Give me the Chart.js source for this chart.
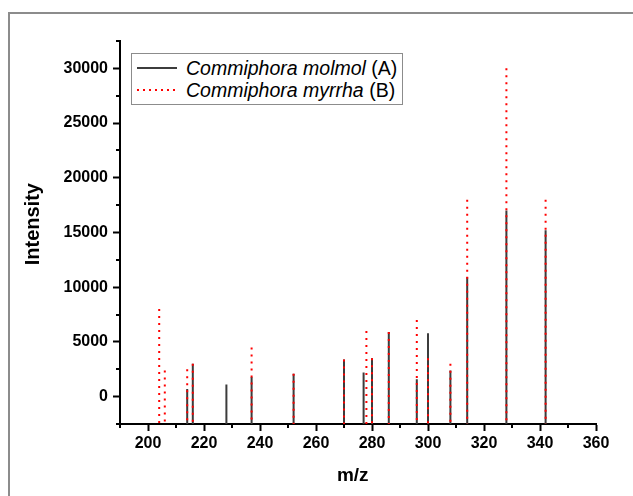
<!DOCTYPE html>
<html>
<head>
<meta charset="utf-8">
<script src="https://cdn.jsdelivr.net/npm/chart.js@4.4.1/dist/chart.umd.min.js"></script>
<style>
  body { margin: 0; background: #fff; overflow: hidden; }
  #wrap { position: relative; width: 633px; height: 496px; overflow: hidden; }
  #frame { position: absolute; left: 8px; top: 12px; width: 700px; height: 600px;
           border-left: 2px solid #8c8c8c; border-top: 2px solid #8c8c8c; }
  #chart { position: absolute; left: 0; top: 0; }
  #legend { position: absolute; left: 131px; top: 53px; width: 270px; height: 50px;
            border: 1px solid #8c8c8c; background: #fff; color: #000;
            font-family: "Liberation Sans", Arial, sans-serif; font-size: 19.5px; }
  .row { position: absolute; left: 0; height: 22px; line-height: 22px; white-space: nowrap; }
  .sample { position: absolute; left: 5px; top: 10px; width: 40px; height: 2px; }
  .label { position: absolute; left: 54px; top: 0; }
</style>
</head>
<body>
<div id="wrap">
  <div id="frame"></div>
  <canvas id="chart" width="633" height="496"></canvas>
  <div id="legend"></div>
</div>
<script>
// m/z 값과 세기
const mzA = [214, 216, 228, 237, 252, 270, 277, 280, 286, 296, 300, 308, 314, 328, 342];
const intA = [700, 3000, 1100, 1800, 2100, 3400, 2200, 3500, 5900, 1600, 5800, 2400, 10900, 17000, 15200];
const mzB = [204, 206, 214, 216, 237, 252, 270, 278, 280, 286, 296, 300, 308, 314, 328, 342];
const intB = [8000, 2400, 2500, 3000, 4500, 2100, 3400, 6000, 3500, 5900, 7000, 3500, 3000, 18000, 30000, 18000];

const seriesNames = ["Commiphora molmol", "Commiphora myrrha"];
const seriesTags = ["(A)", "(B)"];

// 축 눈금
const xMin = 190, xMax = 360;
const yMin = -2500, yMax = 32500;
const xTicks = [200, 220, 240, 260, 280, 300, 320, 340, 360];
const xMinor = [190, 210, 230, 250, 270, 290, 310, 330, 350];
const yTicks = [0, 5000, 10000, 15000, 20000, 25000, 30000];
const yMinor = [-2500, 2500, 7500, 12500, 17500, 22500, 27500, 32500];

const font = "'Liberation Sans', Arial, sans-serif";

// 막대 대신 세로선: 값(위)에서 축 바닥까지, null 로 끊기
function stems(mz, vals) {
  const pts = [];
  mz.forEach((x, i) => {
    pts.push({ x: x, y: vals[i] }, { x: x, y: yMin }, { x: x, y: null });
  });
  return pts;
}

// 보조 눈금
const minorTicks = {
  id: "minorTicks",
  afterDraw(chart) {
    const { ctx, chartArea, scales } = chart;
    ctx.save();
    ctx.strokeStyle = "#000";
    ctx.lineWidth = 2;
    ctx.beginPath();
    xMinor.forEach(v => {
      const px = Math.round(scales.x.getPixelForValue(v));
      ctx.moveTo(px, chartArea.bottom);
      ctx.lineTo(px, chartArea.bottom + 4);
    });
    yMinor.forEach(v => {
      const py = Math.round(scales.y.getPixelForValue(v));
      ctx.moveTo(chartArea.left, py);
      ctx.lineTo(chartArea.left - 4, py);
    });
    ctx.stroke();
    ctx.restore();
  }
};

new Chart(document.querySelector("#chart"), {
  type: "scatter",
  data: {
    datasets: [
      {
        label: seriesNames[0] + " " + seriesTags[0],
        data: stems(mzA, intA),
        showLine: true,
        spanGaps: false,
        borderColor: "#3c3c3c",
        borderWidth: 2,
        pointRadius: 0,
        order: 2,
      },
      {
        label: seriesNames[1] + " " + seriesTags[1],
        data: stems(mzB, intB),
        showLine: true,
        spanGaps: false,
        borderColor: "#ff0000",
        borderWidth: 2,
        borderDash: [2, 5],
        pointRadius: 0,
        order: 1,
      },
    ],
  },
  options: {
    responsive: false,
    animation: false,
    events: [],
    layout: { padding: { left: 0, top: 41, right: 37, bottom: 0 } },
    plugins: { legend: { display: false }, tooltip: { enabled: false } },
    scales: {
      x: {
        type: "linear",
        min: xMin,
        max: xMax,
        afterBuildTicks: s => { s.ticks = xTicks.map(v => ({ value: v })); },
        afterFit: s => { s.height = 72; },
        grid: { drawOnChartArea: false, drawTicks: true, tickLength: 7, tickWidth: 2, tickColor: "#000" },
        border: { color: "#000", width: 2 },
        ticks: {
          color: "#000", padding: 3, maxRotation: 0, autoSkip: false,
          font: { family: font, size: 16, weight: "bold" },
          callback: v => String(v),
        },
        title: {
          display: true, text: "m/z  ", color: "#000",
          font: { family: font, size: 19, weight: "bold" },
          padding: { top: 0, bottom: 9 },
        },
      },
      y: {
        min: yMin,
        max: yMax,
        afterBuildTicks: s => { s.ticks = yTicks.map(v => ({ value: v })); },
        afterFit: s => { s.width = 120; },
        grid: { drawOnChartArea: false, drawTicks: true, tickLength: 7, tickWidth: 2, tickColor: "#000" },
        border: { color: "#000", width: 2 },
        ticks: {
          color: "#000", padding: 5, autoSkip: false,
          font: { family: font, size: 16, weight: "bold" },
          callback: v => String(v),
        },
        title: {
          display: true, text: "   Intensity", color: "#000",
          font: { family: font, size: 20, weight: "bold" },
          padding: { top: 21, bottom: 0 },
        },
      },
    },
  },
  plugins: [minorTicks],
});

// 범례 (기울임 + 보통 글꼴 섞어서 HTML 로)
const legend = document.querySelector("#legend");
const samples = [
  "background:#3c3c3c;",
  "background:repeating-linear-gradient(to right,#ff0000 0 2px,transparent 2px 6px);",
];
seriesNames.forEach((name, i) => {
  const row = document.createElement("div");
  row.className = "row";
  row.style.top = (3 + i * 22) + "px";
  row.innerHTML = '<span class="sample" style="' + samples[i] + '"></span>' +
    '<span class="label"><i>' + name + "</i> " + seriesTags[i] + "</span>";
  legend.appendChild(row);
});
</script>
</body>
</html>
